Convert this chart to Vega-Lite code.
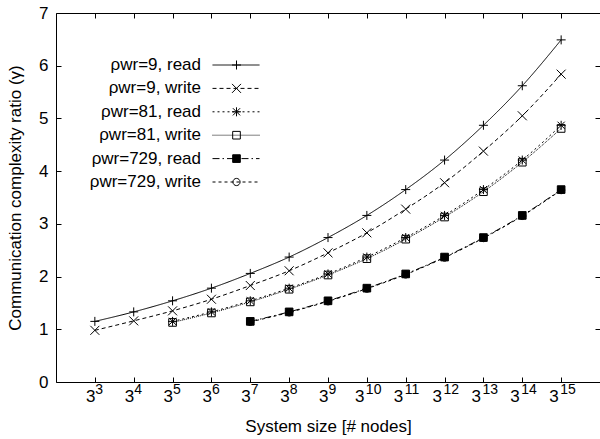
{
  "$schema": "https://vega.github.io/schema/vega-lite/v6.json",
  "width": 544,
  "height": 369,
  "autosize": {"type": "none"},
  "padding": {"left": 56, "top": 13, "right": 0, "bottom": 57},
  "background": "white",
  "config": {
    "font": "Liberation Sans",
    "view": {"stroke": null},
    "axis": {
      "grid": false,
      "domainColor": "black",
      "tickColor": "black",
      "labelColor": "black",
      "titleColor": "black",
      "labelFont": "Liberation Sans",
      "titleFont": "Liberation Sans",
      "titleFontWeight": "normal",
      "labelFlush": false,
      "labelOverlap": false,
      "labelBound": false
    },
    "legend": {"labelFont": "Liberation Sans", "labelColor": "black"}
  },
  "data": {
    "values": [
      {"series": "ρwr=9, read", "nodes": 27, "ratio": 1.15},
      {"series": "ρwr=9, read", "nodes": 81, "ratio": 1.33},
      {"series": "ρwr=9, read", "nodes": 243, "ratio": 1.54},
      {"series": "ρwr=9, read", "nodes": 729, "ratio": 1.78},
      {"series": "ρwr=9, read", "nodes": 2187, "ratio": 2.06},
      {"series": "ρwr=9, read", "nodes": 6561, "ratio": 2.37},
      {"series": "ρwr=9, read", "nodes": 19683, "ratio": 2.74},
      {"series": "ρwr=9, read", "nodes": 59049, "ratio": 3.16},
      {"series": "ρwr=9, read", "nodes": 177147, "ratio": 3.65},
      {"series": "ρwr=9, read", "nodes": 531441, "ratio": 4.21},
      {"series": "ρwr=9, read", "nodes": 1594323, "ratio": 4.87},
      {"series": "ρwr=9, read", "nodes": 4782969, "ratio": 5.62},
      {"series": "ρwr=9, read", "nodes": 14348907, "ratio": 6.49},
      {"series": "ρwr=9, write", "nodes": 27, "ratio": 0.98},
      {"series": "ρwr=9, write", "nodes": 81, "ratio": 1.16},
      {"series": "ρwr=9, write", "nodes": 243, "ratio": 1.35},
      {"series": "ρwr=9, write", "nodes": 729, "ratio": 1.57},
      {"series": "ρwr=9, write", "nodes": 2187, "ratio": 1.83},
      {"series": "ρwr=9, write", "nodes": 6561, "ratio": 2.11},
      {"series": "ρwr=9, write", "nodes": 19683, "ratio": 2.45},
      {"series": "ρwr=9, write", "nodes": 59049, "ratio": 2.83},
      {"series": "ρwr=9, write", "nodes": 177147, "ratio": 3.28},
      {"series": "ρwr=9, write", "nodes": 531441, "ratio": 3.78},
      {"series": "ρwr=9, write", "nodes": 1594323, "ratio": 4.38},
      {"series": "ρwr=9, write", "nodes": 4782969, "ratio": 5.05},
      {"series": "ρwr=9, write", "nodes": 14348907, "ratio": 5.84},
      {"series": "ρwr=81, read", "nodes": 243, "ratio": 1.15},
      {"series": "ρwr=81, read", "nodes": 729, "ratio": 1.33},
      {"series": "ρwr=81, read", "nodes": 2187, "ratio": 1.54},
      {"series": "ρwr=81, read", "nodes": 6561, "ratio": 1.78},
      {"series": "ρwr=81, read", "nodes": 19683, "ratio": 2.05},
      {"series": "ρwr=81, read", "nodes": 59049, "ratio": 2.37},
      {"series": "ρwr=81, read", "nodes": 177147, "ratio": 2.74},
      {"series": "ρwr=81, read", "nodes": 531441, "ratio": 3.16},
      {"series": "ρwr=81, read", "nodes": 1594323, "ratio": 3.65},
      {"series": "ρwr=81, read", "nodes": 4782969, "ratio": 4.21},
      {"series": "ρwr=81, read", "nodes": 14348907, "ratio": 4.87},
      {"series": "ρwr=81, write", "nodes": 243, "ratio": 1.13},
      {"series": "ρwr=81, write", "nodes": 729, "ratio": 1.31},
      {"series": "ρwr=81, write", "nodes": 2187, "ratio": 1.52},
      {"series": "ρwr=81, write", "nodes": 6561, "ratio": 1.76},
      {"series": "ρwr=81, write", "nodes": 19683, "ratio": 2.03},
      {"series": "ρwr=81, write", "nodes": 59049, "ratio": 2.34},
      {"series": "ρwr=81, write", "nodes": 177147, "ratio": 2.71},
      {"series": "ρwr=81, write", "nodes": 531441, "ratio": 3.13},
      {"series": "ρwr=81, write", "nodes": 1594323, "ratio": 3.61},
      {"series": "ρwr=81, write", "nodes": 4782969, "ratio": 4.17},
      {"series": "ρwr=81, write", "nodes": 14348907, "ratio": 4.81},
      {"series": "ρwr=729, read", "nodes": 2187, "ratio": 1.15},
      {"series": "ρwr=729, read", "nodes": 6561, "ratio": 1.33},
      {"series": "ρwr=729, read", "nodes": 19683, "ratio": 1.54},
      {"series": "ρwr=729, read", "nodes": 59049, "ratio": 1.78},
      {"series": "ρwr=729, read", "nodes": 177147, "ratio": 2.05},
      {"series": "ρwr=729, read", "nodes": 531441, "ratio": 2.37},
      {"series": "ρwr=729, read", "nodes": 1594323, "ratio": 2.74},
      {"series": "ρwr=729, read", "nodes": 4782969, "ratio": 3.16},
      {"series": "ρwr=729, read", "nodes": 14348907, "ratio": 3.65},
      {"series": "ρwr=729, write", "nodes": 2187, "ratio": 1.14},
      {"series": "ρwr=729, write", "nodes": 6561, "ratio": 1.32},
      {"series": "ρwr=729, write", "nodes": 19683, "ratio": 1.53},
      {"series": "ρwr=729, write", "nodes": 59049, "ratio": 1.77},
      {"series": "ρwr=729, write", "nodes": 177147, "ratio": 2.04},
      {"series": "ρwr=729, write", "nodes": 531441, "ratio": 2.36},
      {"series": "ρwr=729, write", "nodes": 1594323, "ratio": 2.73},
      {"series": "ρwr=729, write", "nodes": 4782969, "ratio": 3.15},
      {"series": "ρwr=729, write", "nodes": 14348907, "ratio": 3.64}
    ]
  },
  "layer": [
    {
      "mark": {"type": "line", "interpolate": "monotone", "color": "black", "strokeWidth": 1},
      "encoding": {
        "x": {
          "field": "nodes", "type": "quantitative",
          "scale": {"type": "log", "base": 3, "domain": [9, 43046721], "nice": false},
          "axis": {"orient": "top", "values": [27, 81, 243, 729, 2187, 6561, 19683, 59049, 177147, 531441, 1594323, 4782969, 14348907], "labels": false, "title": null, "tickSize": -5}
        },
        "y": {
          "field": "ratio", "type": "quantitative",
          "scale": {"domain": [0, 7], "nice": false, "zero": true},
          "axis": {"orient": "right", "values": [0, 1, 2, 3, 4, 5, 6, 7], "labels": false, "title": null, "tickSize": -5}
        },
        "strokeDash": {
          "field": "series", "type": "nominal",
          "scale": {
            "domain": ["ρwr=9, read", "ρwr=9, write", "ρwr=81, read", "ρwr=81, write", "ρwr=729, read", "ρwr=729, write"],
            "range": [[1, 0], [4, 3], [2, 3], [1, 1], [7, 3, 1.5, 3], [3, 3]]
          },
          "legend": {
            "orient": "none", "legendX": 156, "legendY": 43.5, "title": null,
            "symbolType": "stroke", "symbolSize": 2209, "symbolStrokeWidth": 1, "symbolStrokeColor": "black",
            "labelAlign": "right", "labelOffset": -59, "labelFontSize": 17, "labelLimit": 300,
            "rowPadding": 5.4, "padding": 0,
            "encode": {
              "symbols": {"update": {"y": {"value": 8.5}}},
              "labels": {"update": {"y": {"value": 8.5}}}
            }
          }
        }
      }
    },
    {
      "mark": {"type": "point", "filled": false, "size": 81, "strokeWidth": 1, "opacity": 1},
      "encoding": {
        "x": {
          "field": "nodes", "type": "quantitative",
          "axis": {
            "orient": "bottom",
            "values": [27, 81, 243, 729, 2187, 6561, 19683, 59049, 177147, 531441, 1594323, 4782969, 14348907],
            "labelExpr": "'3'", "labelAlign": "right",
            "labelOffset": {"condition": {"test": "datum.value > 40000", "value": -3}, "value": 0},
            "labelFontSize": 17, "labelPadding": 11, "tickSize": -5,
            "title": "System size [# nodes]", "titleFontSize": 17, "titlePadding": 14
          }
        },
        "y": {
          "field": "ratio", "type": "quantitative",
          "axis": {
            "orient": "left", "values": [0, 1, 2, 3, 4, 5, 6, 7], "tickSize": -5,
            "labelFontSize": 17, "labelPadding": 13,
            "title": "Communication complexity ratio (γ)", "titleFontSize": 17, "titlePadding": 14
          }
        },
        "shape": {
          "field": "series", "type": "nominal",
          "scale": {
            "domain": {"expr": "['ρwr=9, read', 'ρwr=9, write', 'ρwr=81, read', 'ρwr=81, write', 'ρwr=729, read', 'ρwr=729, write']"},
            "range": [
              "M-1,0H1M0,-1V1",
              "M-1,-1L1,1M-1,1L1,-1",
              "M-1,0H1M0,-1V1M-0.8,-0.8L0.8,0.8M-0.8,0.8L0.8,-0.8",
              "M-0.85,-0.85H0.85V0.85H-0.85Z",
              "M-0.85,-0.85H0.85V0.85H-0.85Z",
              "M0.8,0A0.8,0.8,0,1,1,-0.8,0A0.8,0.8,0,1,1,0.8,0Z"
            ]
          },
          "legend": {
            "orient": "none", "legendX": 172, "legendY": 43.5, "title": null,
            "symbolSize": 81, "symbolStrokeWidth": 1,
            "labelOpacity": 0, "labelFontSize": 17, "labelLimit": 300,
            "rowPadding": 5.4, "padding": 0
          }
        },
        "fill": {
          "field": "series", "type": "nominal",
          "scale": {
            "domain": {"expr": "['ρwr=9, read', 'ρwr=9, write', 'ρwr=81, read', 'ρwr=81, write', 'ρwr=729, read', 'ρwr=729, write']"},
            "range": ["transparent", "transparent", "transparent", "transparent", "black", "transparent"]
          },
          "legend": {
            "orient": "none", "legendX": 172, "legendY": 43.5, "title": null,
            "symbolSize": 81, "symbolStrokeWidth": 1,
            "labelOpacity": 0, "labelFontSize": 17, "labelLimit": 300,
            "rowPadding": 5.4, "padding": 0
          }
        },
        "stroke": {
          "field": "series", "type": "nominal",
          "scale": {
            "domain": {"expr": "['ρwr=9, read', 'ρwr=9, write', 'ρwr=81, read', 'ρwr=81, write', 'ρwr=729, read', 'ρwr=729, write']"},
            "range": ["black", "black", "black", "black", "black", "black"]
          },
          "legend": {
            "orient": "none", "legendX": 172, "legendY": 43.5, "title": null,
            "symbolSize": 81, "symbolStrokeWidth": 1,
            "labelOpacity": 0, "labelFontSize": 17, "labelLimit": 300,
            "rowPadding": 5.4, "padding": 0
          }
        }
      }
    },
    {
      "mark": {"type": "point", "opacity": 0},
      "encoding": {
        "x": {
          "field": "nodes", "type": "quantitative",
          "axis": {
            "orient": "bottom",
            "values": [27, 81, 243, 729, 2187, 6561, 19683, 59049, 177147, 531441, 1594323, 4782969, 14348907],
            "labelExpr": "round(log(datum.value)/log(3)) + ''", "labelAlign": "left",
            "labelOffset": {"condition": {"test": "datum.value > 40000", "value": -1.5}, "value": 0},
            "labelFontSize": 14, "labelPadding": 0, "ticks": false, "domain": false, "title": null
          }
        },
        "y": {"field": "ratio", "type": "quantitative", "axis": null}
      }
    }
  ],
  "resolve": {"axis": {"x": "independent", "y": "independent"}}
}
